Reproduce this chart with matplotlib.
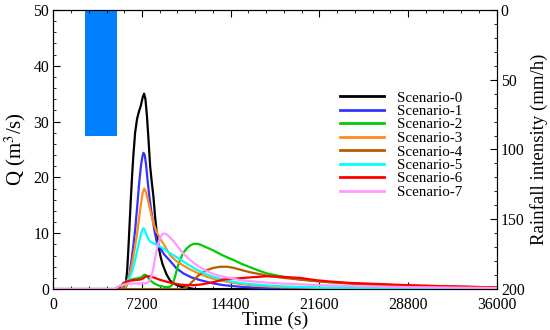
import matplotlib

matplotlib.use("Agg")
import matplotlib.pyplot as plt
from matplotlib.ticker import MultipleLocator

plt.rcParams["font.family"] = ["Liberation Serif", "DejaVu Serif"]
plt.rcParams["mathtext.fontset"] = "stix"

# rainfall block (hyetograph)
RAIN_START = 2600
RAIN_END = 5200
RAIN_INTENSITY = 90  # mm/h

# hydrographs, time (s) / Q (m3/s)
t0 = [0, 5700, 5800, 5900, 6000, 6100, 6200, 6300, 6400, 6500, 6640, 6800, 6950, 7100,
      7250, 7370, 7480, 7600, 7720, 7860, 8000, 8130, 8260, 8400, 8550, 8700, 8850, 9000,
      9200, 9490, 9800, 10030, 10400, 10840, 11500, 36000]
q0 = [0, 0, 0.3, 1.2, 3.5, 7.5, 12, 16.5, 20.5, 24, 28, 30.5, 31.8, 32.8,
      34.3, 35, 34, 31, 27, 22, 19, 16.5, 13, 10, 7.6, 5.9, 4.6, 3.7,
      2.6, 1.5, 1.0, 0.7, 0.4, 0.25, 0, 0]

t1 = [0, 5800, 5900, 6000, 6100, 6200, 6350, 6500, 6650, 6800, 6950, 7100, 7220, 7320,
      7420, 7530, 7650, 7800, 7950, 8100, 8250, 8400, 8700, 9000, 9500, 10000, 10570,
      11200, 11930, 13000, 13830, 15500, 17500, 20000, 36000]
q1 = [0, 0, 0.4, 1.0, 1.8, 3, 5.2, 7.8, 10.8, 14.5, 18.5, 21.8, 23.6, 24.4,
      24, 22.3, 19.5, 16.5, 14, 12, 10, 8.4, 7.3, 6.2, 5.0, 3.7, 2.8,
      2.1, 1.6, 1.0, 0.7, 0.35, 0.15, 0.05, 0]

t2 = [0, 5600, 5800, 6000, 6500, 7000, 7200, 7350, 7450, 7550, 7700, 7900, 8200, 8600,
      9000, 9300, 9500, 9650, 9800, 9950, 10100, 10300, 10550, 10840, 11100, 11390, 11700,
      12000, 12400, 13010, 13600, 14200, 14640, 15300, 16000, 16700, 17350, 18700, 20060,
      22000, 24130, 26500, 28800, 32000, 36000]
q2 = [0, 0, 0.8, 1.5, 1.8, 2.0, 2.2, 2.5, 2.6, 2.4, 2.0, 1.5, 1.0, 0.6,
      0.4, 0.35, 0.45, 0.8, 1.6, 2.8, 4.0, 5.3, 6.5, 7.3, 7.8, 8.1, 8.1,
      7.9, 7.5, 6.9, 6.2, 5.6, 5.2, 4.5, 3.9, 3.3, 2.8, 2.2, 1.7,
      1.3, 1.0, 0.8, 0.6, 0.45, 0.3]

t3 = [0, 5800, 5900, 6000, 6150, 6300, 6450, 6600, 6780, 6950, 7100, 7250, 7380, 7500,
      7650, 7800, 7950, 8130, 8400, 8680, 9000, 9500, 10000, 10570, 11120, 11800, 12470,
      13200, 14100, 15200, 16500, 18500, 22000, 36000]
q3 = [0, 0, 0.4, 1.0, 2.2, 3.6, 5.2, 7.2, 9.6, 12.5, 15, 17.2, 18, 17.5,
      16.2, 14.8, 13.3, 11.8, 10.2, 9.0, 7.9, 6.0, 5.0, 4.2, 3.5, 2.8, 2.2,
      1.7, 1.3, 0.9, 0.6, 0.35, 0.2, 0.1]

t4 = [0, 10500, 10840, 11100, 11400, 11660, 12000, 12470, 13000, 13560, 14100, 14640,
      15300, 16000, 16700, 17350, 18700, 20060, 22000, 24130, 26500, 28800, 32000, 36000]
q4 = [0, 0, 0.3, 0.9, 1.6, 2.2, 2.8, 3.4, 3.8, 4.0, 4.0, 3.8,
      3.4, 3.0, 2.7, 2.4, 2.0, 1.7, 1.3, 1.0, 0.8, 0.6, 0.45, 0.3]

t5 = [0, 5000, 5150, 5400, 5700, 6000, 6240, 6400, 6600, 6800, 6950, 7100, 7220, 7320,
      7420, 7550, 7700, 7860, 8130, 8400, 8680, 9000, 9350, 9800, 10300, 10800, 11390,
      11900, 12470, 13100, 13830, 14600, 15500, 17000, 19000, 22000, 36000]
q5 = [0, 0, 0.3, 0.6, 1.0, 1.5, 2.2, 3.2, 4.8, 6.8, 8.3, 9.7, 10.6, 10.9,
      10.6, 9.8, 9.0, 8.5, 8.2, 7.9, 7.6, 7.2, 6.6, 6.0, 5.3, 4.6, 3.8,
      3.2, 2.6, 2.1, 1.7, 1.3, 1.0, 0.7, 0.45, 0.25, 0.1]

t6 = [0, 5200, 5450, 5700, 6000, 6240, 6600, 7050, 7300, 7450, 7590, 7750, 8130, 8600,
      9220, 9800, 10300, 10900, 11390, 11900, 12470, 13100, 13830, 14500, 15180, 16000,
      16700, 17350, 18500, 20060, 21300, 22500, 24130, 26500, 28800, 32000, 36000]
q6 = [0, 0, 0.4, 1.1, 1.4, 1.5, 1.6, 1.7, 1.9, 2.2, 2.3, 2.3, 2.1, 1.7,
      1.3, 1.0, 0.8, 0.7, 0.7, 0.8, 1.0, 1.3, 1.7, 1.85, 1.95, 2.1,
      2.2, 2.3, 2.2, 2.0, 1.6, 1.35, 1.1, 0.9, 0.7, 0.5, 0.3]

t7 = [0, 5000, 5300, 5700, 6240, 7000, 7590, 7750, 7900, 8000, 8130, 8250, 8400, 8550,
      8700, 8850, 8950, 9100, 9300, 9500, 9760, 10100, 10570, 11000, 11390, 11900, 12470,
      13100, 13830, 14500, 15180, 16500, 18000, 21600, 25000, 28800, 36000]
q7 = [0, 0, 0.5, 0.8, 1.0, 1.0, 1.05, 1.3, 1.8, 2.6, 3.8, 5.4, 7.0, 8.4,
      9.3, 9.8, 9.95, 9.9, 9.6, 9.2, 8.6, 7.6, 6.3, 5.4, 4.7, 3.9, 3.2,
      2.6, 2.2, 1.9, 1.6, 1.3, 1.05, 0.7, 0.5, 0.35, 0.2]

SCENARIOS = [(t0, q0), (t1, q1), (t2, q2), (t3, q3), (t4, q4), (t5, q5), (t6, q6), (t7, q7)]
LABELS = [f"Scenario-{i}" for i in range(8)]
COLORS = ["#000000", "#3333ff", "#00cc00", "#ff8c1a", "#b85c00", "#00ffff", "#ff0000", "#ff99ff"]

X_TICKS = [0, 7200, 14400, 21600, 28800, 36000]


def main():
    fig = plt.figure(figsize=(5.5, 3.3), dpi=100)
    ax = fig.add_axes([0.097, 0.124, 0.806, 0.846])
    ax2 = ax.twinx()

    ax2.bar(RAIN_START, RAIN_INTENSITY, width=RAIN_END - RAIN_START, align="edge",
            bottom=0, color="#0080ff", lw=0)
    ax2.set_ylim(200, 0)
    ax2.yaxis.set_major_locator(MultipleLocator(50))
    ax2.yaxis.set_minor_locator(MultipleLocator(10))
    ax2.set_ylabel("Rainfall intensity (mm/h)", fontsize=13.5, labelpad=4)

    ax.set_zorder(ax2.get_zorder() + 1)
    ax.patch.set_visible(False)
    for (t, q), lab, c in zip(SCENARIOS, LABELS, COLORS):
        ax.plot(t, q, color=c, lw=1.6, label=lab)

    ax.set_xlim(0, 36000)
    ax.set_ylim(0, 50)
    ax.set_xticks(X_TICKS)
    ax.xaxis.set_minor_locator(MultipleLocator(1440))
    ax.yaxis.set_major_locator(MultipleLocator(10))
    ax.yaxis.set_minor_locator(MultipleLocator(2))
    ax.set_xlabel("Time (s)", fontsize=14, labelpad=-1)
    ax.set_ylabel("Q (m$^3$/s)", fontsize=15, labelpad=4)

    ax.tick_params(which="both", direction="in", top=True, labelsize=11.3, pad=3)
    ax.tick_params(axis="x", pad=6)
    ax.tick_params(which="major", length=5)
    ax.tick_params(which="minor", length=2.5)
    ax2.tick_params(which="both", direction="in", labelsize=11.3, pad=3)
    ax2.tick_params(which="major", length=5)
    ax2.tick_params(which="minor", length=2.5)

    leg = ax.legend(loc="upper left", bbox_to_anchor=(340 / 550, 1 - 91 / 330),
                    bbox_transform=fig.transFigure, frameon=False, fontsize=10.8,
                    handlelength=2.95, handletextpad=0.85, labelspacing=0.0,
                    borderpad=0, borderaxespad=0)
    for line in leg.get_lines():
        line.set_linewidth(2)

    fig.savefig("out.png", dpi=100)
    plt.close(fig)


if __name__ == "__main__":
    main()
